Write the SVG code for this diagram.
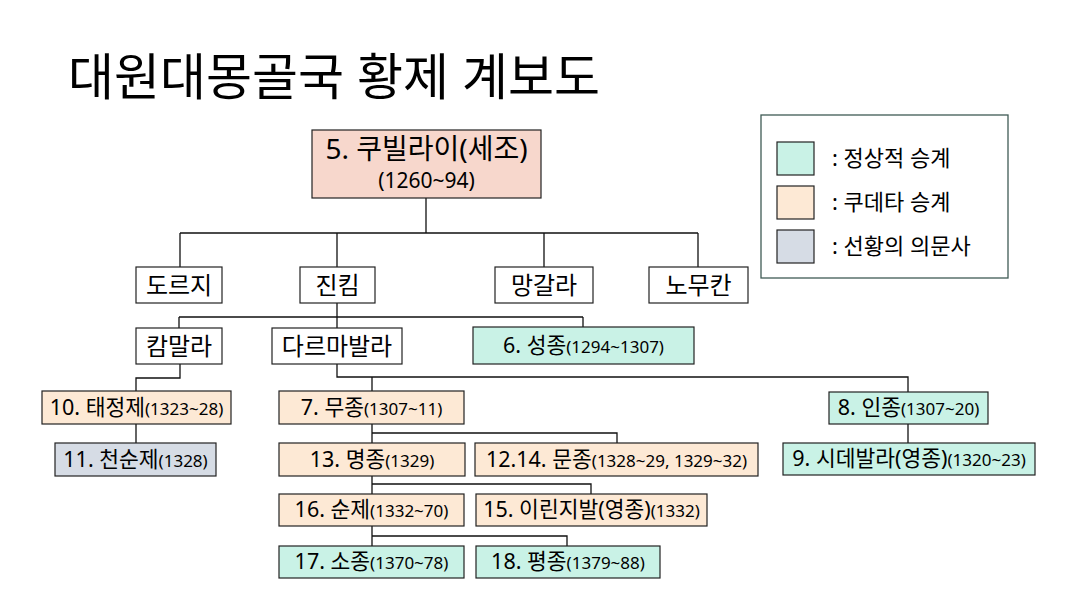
<svg xmlns="http://www.w3.org/2000/svg" width="1079" height="600" viewBox="0 0 1079 600">
<style>
text{font-family:"Noto Sans","Noto Sans CJK KR",sans-serif;fill:#000}
.t{font-size:24px;text-anchor:middle}
.n{font-size:21.5px;text-anchor:middle}
.s{font-size:17px}
.box{stroke:#222;stroke-width:1.2}
.w{fill:#fff}
.g{fill:#c9f2e6}
.o{fill:#fde9d5}
.y{fill:#d6dce5}
.p{fill:#f7d7cc}
.lg{font-size:22px}
#conn path{fill:none;stroke:#111;stroke-width:1.3}
</style>
<rect width="1079" height="600" fill="#fff"/>
<text x="68" y="95" font-size="50">대원대몽골국 황제 계보도</text>
<g id="conn">
<path d="M426 198V233M180 233H698M180 233V267M337 233V267M544 233V267M698 233V267"/>
<path d="M337 303V317M179 317H583M179 317V328M337 317V328M583 317V327"/>
<path d="M180 364V378H136V391"/>
<path d="M136 424V443"/>
<path d="M337 364V377H908V392M372 377V391"/>
<path d="M372 424V443M372 433H617V443"/>
<path d="M908 424V443"/>
<path d="M372 476V494M372 484H591V494"/>
<path d="M372 526V546M372 536H567V546"/>
</g>
<g id="n5"><rect class="box p" x="312" y="130" width="229" height="68"/><text x="426.5" y="159" font-size="28" text-anchor="middle">5. 쿠빌라이(세조)</text><text x="426.5" y="188" font-size="21" text-anchor="middle">(1260~94)</text></g>
<g id="dorji"><rect class="box w" x="136" y="267" width="86" height="36"/><text class="t" x="179" y="294">도르지</text></g>
<g id="jinkim"><rect class="box w" x="300" y="267" width="75" height="36"/><text class="t" x="337.5" y="294">진킴</text></g>
<g id="manggala"><rect class="box w" x="495" y="267" width="98" height="36"/><text class="t" x="544" y="294">망갈라</text></g>
<g id="nomukan"><rect class="box w" x="649" y="267" width="99" height="36"/><text class="t" x="698.5" y="294">노무칸</text></g>
<g id="kammala"><rect class="box w" x="136" y="328" width="86" height="36"/><text class="t" x="179" y="355">캄말라</text></g>
<g id="darmabala"><rect class="box w" x="272" y="328" width="130" height="36"/><text class="t" x="337" y="355">다르마발라</text></g>
<g id="n6"><rect class="box g" x="473" y="327" width="221" height="37"/><text class="n" x="583.5" y="353">6. 성종<tspan class="s">(1294~1307)</tspan></text></g>
<g id="n10"><rect class="box o" x="42" y="391" width="189" height="33"/><text class="n" x="136.5" y="415">10. 태정제<tspan class="s">(1323~28)</tspan></text></g>
<g id="n11"><rect class="box y" x="55" y="443" width="161" height="33"/><text class="n" x="135.5" y="467">11. 천순제<tspan class="s">(1328)</tspan></text></g>
<g id="n7"><rect class="box o" x="279" y="391" width="185" height="33"/><text class="n" x="371.5" y="415">7. 무종<tspan class="s">(1307~11)</tspan></text></g>
<g id="n13"><rect class="box o" x="279" y="443" width="186" height="33"/><text class="n" x="372" y="467">13. 명종<tspan class="s">(1329)</tspan></text></g>
<g id="n12"><rect class="box o" x="475" y="443" width="283" height="33"/><text class="n" x="616.5" y="467">12.14. 문종<tspan class="s">(1328~29, 1329~32)</tspan></text></g>
<g id="n8"><rect class="box g" x="829" y="392" width="159" height="32"/><text class="n" x="908.5" y="415">8. 인종<tspan class="s">(1307~20)</tspan></text></g>
<g id="n9"><rect class="box g" x="783" y="443" width="252" height="32"/><text class="n" x="909" y="466">9. 시데발라(영종)<tspan class="s">(1320~23)</tspan></text></g>
<g id="n16"><rect class="box o" x="279" y="494" width="185" height="32"/><text class="n" x="371.5" y="517">16. 순제<tspan class="s">(1332~70)</tspan></text></g>
<g id="n15"><rect class="box o" x="476" y="494" width="231" height="32"/><text class="n" x="591.5" y="517">15. 이린지발(영종)<tspan class="s">(1332)</tspan></text></g>
<g id="n17"><rect class="box g" x="279" y="546" width="185" height="32"/><text class="n" x="371.5" y="569">17. 소종<tspan class="s">(1370~78)</tspan></text></g>
<g id="n18"><rect class="box g" x="476" y="546" width="184" height="32"/><text class="n" x="568" y="569">18. 평종<tspan class="s">(1379~88)</tspan></text></g>
<g id="legend">
<rect x="761" y="115" width="247" height="163" fill="#fff" stroke="#3f5b55" stroke-width="1.3"/>
<rect class="box g" x="777" y="142" width="37" height="33"/>
<rect class="box o" x="777" y="186" width="37" height="33"/>
<rect class="box y" x="777" y="230" width="37" height="33"/>
<text class="lg" x="832" y="166">: 정상적 승계</text>
<text class="lg" x="832" y="210">: 쿠데타 승계</text>
<text class="lg" x="832" y="254">: 선황의 의문사</text>
</g>
</svg>
